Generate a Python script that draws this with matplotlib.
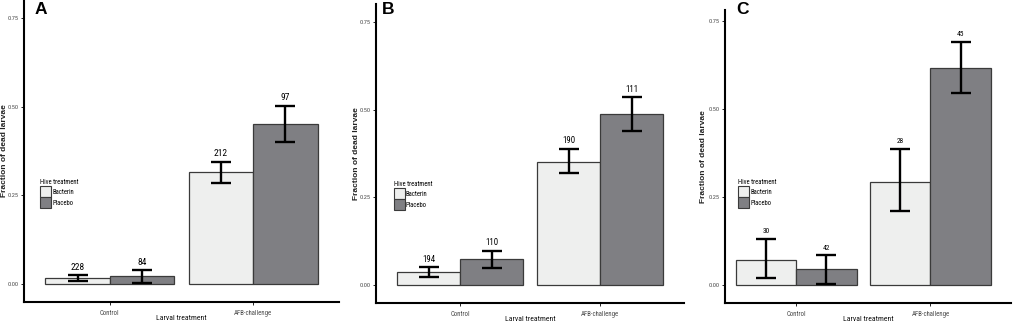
import matplotlib
matplotlib.use("Agg")
import matplotlib.pyplot as plt
from matplotlib.patches import Patch
from matplotlib import font_manager
import numpy as np

# ---------------- data ----------------
categories = ["Control", "AFB-challenge"]
groups = ["Bacterin", "Placebo"]
panel_letters = ["A", "B", "C"]

# Panel A
A_bacterin = [0.017, 0.315]
A_placebo = [0.022, 0.452]
A_bacterin_lo = [0.008, 0.284]
A_bacterin_hi = [0.025, 0.345]
A_placebo_lo = [0.004, 0.400]
A_placebo_hi = [0.040, 0.503]
A_n_bacterin = ["228", "212"]
A_n_placebo = ["84", "97"]

# Panel B
B_bacterin = [0.037, 0.352]
B_placebo = [0.074, 0.486]
B_bacterin_lo = [0.025, 0.319]
B_bacterin_hi = [0.051, 0.389]
B_placebo_lo = [0.049, 0.440]
B_placebo_hi = [0.099, 0.535]
B_n_bacterin = ["194", "190"]
B_n_placebo = ["110", "111"]

# Panel C
C_bacterin = [0.073, 0.293]
C_placebo = [0.045, 0.615]
C_bacterin_lo = [0.020, 0.210]
C_bacterin_hi = [0.132, 0.387]
C_placebo_lo = [0.005, 0.545]
C_placebo_hi = [0.085, 0.690]
C_n_bacterin = ["30", "28"]
C_n_placebo = ["42", "45"]

yticks = [0.00, 0.25, 0.50, 0.75]
ytick_labels = ["0.00", "0.25", "0.50", "0.75"]

# ---------------- styling ----------------
available = {f.name for f in font_manager.fontManager.ttflist}
NARROW = "Roboto Condensed" if "Roboto Condensed" in available else "Liberation Sans"
WIDE = "Liberation Sans"

col_bac = "#eeefee"
col_pla = "#7f7f83"
edge = "#3a3a3a"

W, H = 1021, 322
fig = plt.figure(figsize=(W / 100, H / 100), dpi=100)

def px_axes(left, right, top, bottom):
    return fig.add_axes([left / W, 1 - bottom / H, (right - left) / W, (bottom - top) / H])

panels = [
    dict(rect=(24, 339, 0, 302), xlim=(0.4, 2.6), ylim=(-0.05, 0.80), letter_xy=(35, 2),
         nfs=6.8, ylab_x=8,
         bac=A_bacterin, pla=A_placebo, blo=A_bacterin_lo, bhi=A_bacterin_hi,
         plo=A_placebo_lo, phi=A_placebo_hi, nb=A_n_bacterin, np_=A_n_placebo,
         leg=(40, 179)),
    dict(rect=(376, 684, 4, 303), xlim=(0.4, 2.6), ylim=(-0.05, 0.80), letter_xy=(382, 2),
         nfs=6.3, ylab_x=360,
         bac=B_bacterin, pla=B_placebo, blo=B_bacterin_lo, bhi=B_bacterin_hi,
         plo=B_placebo_lo, phi=B_placebo_hi, nb=B_n_bacterin, np_=B_n_placebo,
         leg=(394, 181)),
    dict(rect=(725, 1011, 10, 303), xlim=(0.47, 2.6), ylim=(-0.05, 0.78), letter_xy=(736, 2),
         nfs=5.3, ylab_x=707,
         bac=C_bacterin, pla=C_placebo, blo=C_bacterin_lo, bhi=C_bacterin_hi,
         plo=C_placebo_lo, phi=C_placebo_hi, nb=C_n_bacterin, np_=C_n_placebo,
         leg=(738, 179)),
]

x = np.arange(1, len(categories) + 1)
bw = 0.45

for letter, p in zip(panel_letters, panels):
    l, r, t, b = p["rect"]
    ax = px_axes(l, r, t, b)
    ax.set_xlim(*p["xlim"])
    ax.set_ylim(*p["ylim"])
    for s in ["top", "right"]:
        ax.spines[s].set_visible(False)
    ax.spines["left"].set_linewidth(1.5)
    ax.spines["bottom"].set_linewidth(1.5)

    xb = x - bw / 2
    xp = x + bw / 2
    ax.bar(xb, p["bac"], width=bw, color=col_bac, edgecolor=edge, linewidth=0.9, zorder=2)
    ax.bar(xp, p["pla"], width=bw, color=col_pla, edgecolor=edge, linewidth=0.9, zorder=2)

    for xs, v, lo, hi, ns in [(xb, p["bac"], p["blo"], p["bhi"], p["nb"]),
                              (xp, p["pla"], p["plo"], p["phi"], p["np_"])]:
        v = np.array(v); lo = np.array(lo); hi = np.array(hi)
        ax.errorbar(xs, v, yerr=[v - lo, hi - v], fmt="none", ecolor="black",
                    elinewidth=1.7, capsize=7.5, capthick=1.7, zorder=3)
        for xi, hv, n in zip(xs, hi, ns):
            ax.annotate(n, (xi, hv), xytext=(0, 2.5), textcoords="offset points",
                        ha="center", va="bottom", fontsize=p["nfs"], family=NARROW)

    ax.set_yticks(yticks)
    ax.set_yticklabels(ytick_labels)
    ax.set_xticks(x)
    ax.set_xticklabels(categories)
    ax.tick_params(axis="y", labelsize=4.6, labelcolor="#4a4a4a", length=2, width=0.6, pad=2.0)
    ax.tick_params(axis="x", labelsize=4.9, labelcolor="#4a4a4a", length=2, width=0.6, pad=3.5)
    for lab in ax.get_xticklabels() + ax.get_yticklabels():
        lab.set_family(NARROW)

    ax.set_ylabel("Fraction of dead larvae", fontsize=6, family=WIDE, fontweight="bold",
                  color="#222222")
    ax.yaxis.set_label_coords((p["ylab_x"] - l) / (r - l), 0.5)
    ax.set_xlabel("Larval treatment", fontsize=5.6, family=NARROW, labelpad=-1.5,
                  color="#111111")

    lx, ly = p["letter_xy"]
    fig.text(lx / W, 1 - ly / H, letter, fontsize=12.5, fontweight="bold",
             family=WIDE, ha="left", va="top")

    handles = [Patch(facecolor=col_bac, edgecolor=edge, linewidth=0.8),
               Patch(facecolor=col_pla, edgecolor=edge, linewidth=0.8)]
    gx, gy = p["leg"]
    leg = ax.legend(handles, groups, title="Hive treatment", frameon=False,
                    loc="upper left",
                    bbox_to_anchor=(gx / W, 1 - gy / H), bbox_transform=fig.transFigure,
                    handlelength=1.6, handleheight=2.1,
                    handletextpad=0.2, labelspacing=0.05, borderpad=0, borderaxespad=0,
                    alignment="left", prop={"family": NARROW, "size": 4.8},
                    title_fontproperties={"family": NARROW, "size": 4.8})

fig.savefig("out.png", dpi=100)
